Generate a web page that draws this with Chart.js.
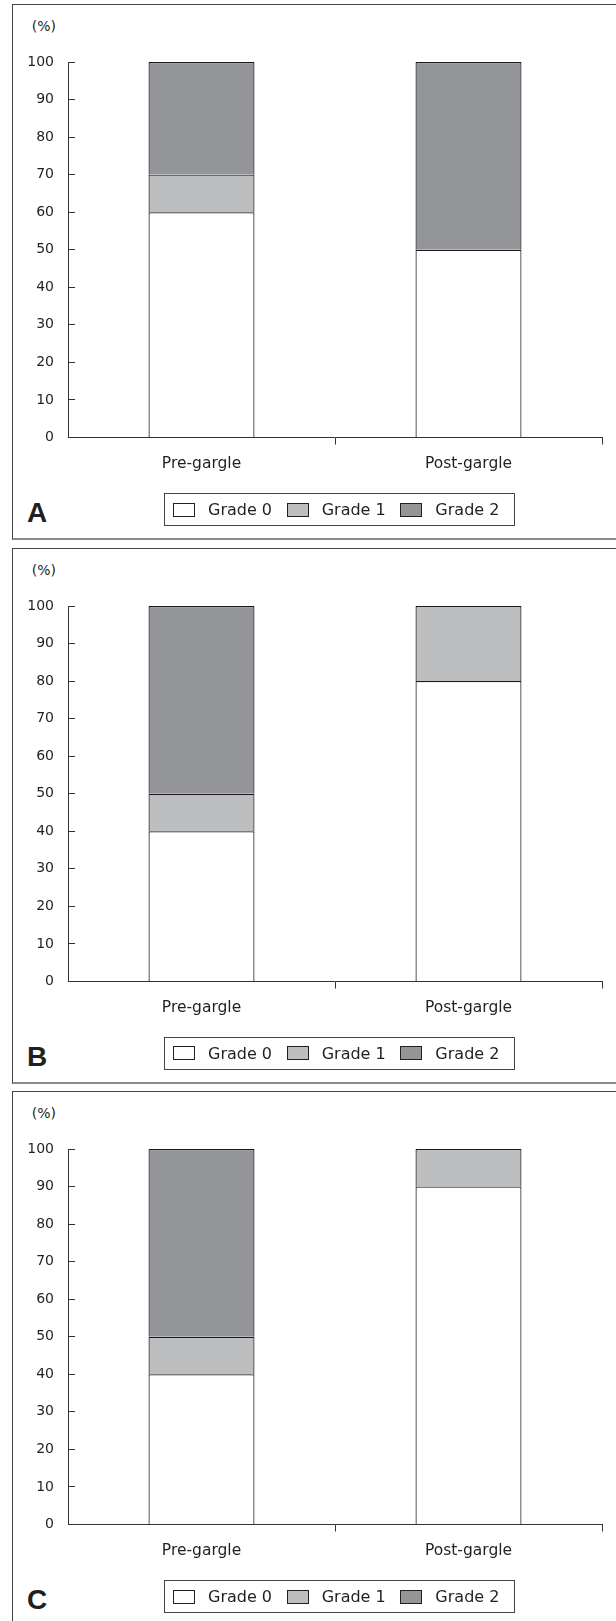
<!DOCTYPE html>
<html>
<head>
<meta charset="utf-8">
<script src="https://cdn.jsdelivr.net/npm/chart.js@4.4.1/dist/chart.umd.min.js"></script>
<style>
    body { margin: 0; width: 616px; height: 1621px; position: relative; overflow: hidden; background: #fff; font-family: "DejaVu Sans", sans-serif; color: #231f20; }
    .panel { position: absolute; left: 12px; width: 640px; height: 536px; box-sizing: border-box; border-top: 1px solid #444; border-left: 1.5px solid #444; border-bottom: 2px solid #8a8a8a; }
    canvas { position: absolute; left: 0; }
    .unit { position: absolute; width: 56px; text-align: right; font-size: 14px; line-height: 16px; }
    .letter { position: absolute; left: 27px; font-family: "Liberation Sans", Arial, sans-serif; font-weight: bold; font-size: 28px; line-height: 30px; }
    .legend { position: absolute; left: 164px; width: 351px; height: 33px; box-sizing: border-box; border: 1px solid #444; display: flex; align-items: center; padding-left: 8px; font-size: 16px; }
    .legend-item { display: flex; align-items: center; width: 115.5px; }
    .legend-item span.box { width: 22px; height: 14px; box-sizing: border-box; border: 1px solid #231f20; margin-right: 13px; }
</style>
</head>
<body>

<script>
// Data
const categories = ['Pre-gargle', 'Post-gargle'];
const gradeLabels = ['Grade 0', 'Grade 1', 'Grade 2'];
const gradeColors = ['#ffffff', '#bcbec0', '#939598'];

// Panel A
const panelA_grade0 = [60, 50];
const panelA_grade1 = [10, 0];
const panelA_grade2 = [30, 50];

// Panel B
const panelB_grade0 = [40, 80];
const panelB_grade1 = [10, 20];
const panelB_grade2 = [50, 0];

// Panel C
const panelC_grade0 = [40, 90];
const panelC_grade1 = [10, 10];
const panelC_grade2 = [50, 0];

const panels = [
    { letter: 'A', top: 4, series: [panelA_grade0, panelA_grade1, panelA_grade2] },
    { letter: 'B', top: 547.5, series: [panelB_grade0, panelB_grade1, panelB_grade2] },
    { letter: 'C', top: 1091, series: [panelC_grade0, panelC_grade1, panelC_grade2] }
];

const AXIS_COLOR = '#333333';

function addDiv(className, css, text) {
    const div = document.createElement('div');
    div.className = className;
    Object.assign(div.style, css);
    if (text) div.textContent = text;
    document.body.appendChild(div);
    return div;
}

function buildLegend(chart, top) {
    const box = addDiv('legend', { top: (top + 489) + 'px' });
    const items = Chart.defaults.plugins.legend.labels.generateLabels(chart);
    items.forEach(item => {
        const el = document.createElement('div');
        el.className = 'legend-item';
        const swatch = document.createElement('span');
        swatch.className = 'box';
        swatch.style.background = item.fillStyle;
        const label = document.createElement('span');
        label.textContent = item.text;
        el.appendChild(swatch);
        el.appendChild(label);
        box.appendChild(el);
    });
}

function renderPanel(panel) {
    addDiv('panel', { top: panel.top + 'px' });
    addDiv('unit', { top: (panel.top + 14) + 'px', left: '0px' }, '(%)');
    addDiv('letter', { top: (panel.top + 494) + 'px' }, panel.letter);

    const canvas = document.createElement('canvas');
    canvas.width = 616;
    canvas.height = 535;
    canvas.style.top = panel.top + 'px';
    document.body.appendChild(canvas);

    const chart = new Chart(canvas, {
        type: 'bar',
        data: {
            labels: categories,
            datasets: panel.series.map((values, i) => ({
                label: gradeLabels[i],
                data: values,
                backgroundColor: gradeColors[i],
                borderColor: '#1a1a1a',
                // empty segments get no outline
                borderWidth: ctx => ctx.raw === 0 ? 0 : 1.2,
                borderSkipped: 'start',
                categoryPercentage: 1,
                barPercentage: 0.397
            }))
        },
        options: {
            responsive: false,
            animation: false,
            events: [],
            layout: { padding: { top: 58, right: 14, left: 0, bottom: 0 } },
            plugins: {
                legend: { display: false },
                tooltip: { enabled: false }
            },
            scales: {
                x: {
                    stacked: true,
                    afterFit: scale => { scale.height = 101.5; },
                    grid: {
                        offset: true,
                        drawOnChartArea: false,
                        tickLength: 7,
                        tickColor: ctx => ctx.index === 0 ? 'rgba(0,0,0,0)' : AXIS_COLOR
                    },
                    border: { display: true, color: AXIS_COLOR, width: 1 },
                    ticks: {
                        color: '#231f20',
                        font: { family: 'DejaVu Sans', size: 15.5 },
                        padding: 10
                    }
                },
                y: {
                    stacked: true,
                    min: 0,
                    max: 100,
                    afterFit: scale => { scale.width = 68; },
                    grid: {
                        drawOnChartArea: false,
                        tickLength: -7,
                        tickColor: AXIS_COLOR
                    },
                    border: { display: true, color: AXIS_COLOR, width: 1 },
                    ticks: {
                        stepSize: 10,
                        color: '#231f20',
                        font: { family: 'DejaVu Sans', size: 14 },
                        padding: 21
                    }
                }
            }
        }
    });

    buildLegend(chart, panel.top);
}

panels.forEach(renderPanel);
</script>
</body>
</html>
